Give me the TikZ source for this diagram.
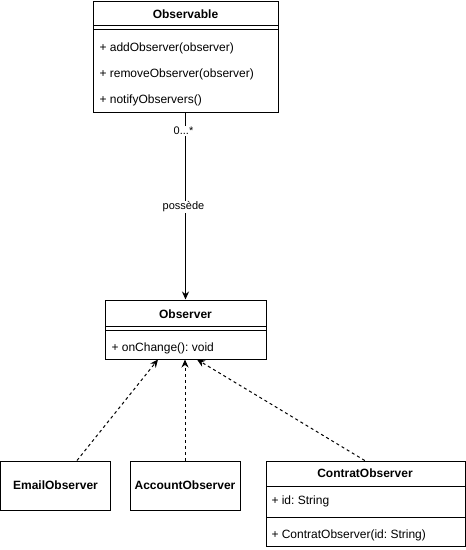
\documentclass[tikz,border=0pt]{standalone}
\usepackage{fontspec}
\setmainfont{Liberation Sans}
\usetikzlibrary{arrows.meta}
\frenchspacing

\begin{document}
\begin{tikzpicture}[x=1pt,y=-1pt,line width=1pt,
   every node/.style={font=\fontsize{12}{14}\selectfont,inner sep=0pt},
   class/.style={draw,rectangle},
   classname/.style={font=\fontsize{12}{14}\selectfont\bfseries},
   member/.style={anchor=west},
   lbl/.style={fill=white,inner sep=1pt,font=\fontsize{11}{13}\selectfont},
   realizes/.style={dash pattern=on 3pt off 3pt,-{Stealth[length=8pt,width=7pt]}}]
\useasboundingbox (0,0) rectangle (466,550);
% Observable
\node[class,minimum width=185pt,minimum height=111pt] (observable) at (185.5,56.5) {};
\node[classname] (observable name) at (185.5,14) {Observable};
\draw (93,25) -- (278,25) (93,29) -- (278,29);
\node[member] (add) at (99,48.5) {+ addObserver(observer)};
\node[member] (remove) at (99,74.5) {+ removeObserver(observer)};
\node[member] (notify) at (99,100.5) {+ notifyObservers()};
% Observer
\node[class,minimum width=161pt,minimum height=59pt] (observer) at (185.5,329.5) {};
\node[classname] (observer name) at (185.5,314) {Observer};
\draw (105,326) -- (266,326) (105,330) -- (266,330);
\node[member] (onchange) at (111,348.5) {+ onChange(): void};
% implementations
\node[class,classname,minimum width=110pt,minimum height=49pt] (email) at (55.5,485.5) {EmailObserver};
\node[class,classname,minimum width=110pt,minimum height=49pt] (account) at (185,485.5) {AccountObserver};
\node[class,minimum width=199.5pt,minimum height=85pt] (contrat) at (365.75,503.5) {};
\node[classname] (contrat name) at (365,473.5) {ContratObserver};
\draw (266,486) -- (465.5,486) (266,517) -- (465.5,517);
\node[member] (id) at (271,501) {+ id: String};
\node[member] (ctor) at (271,535) {+ ContratObserver(id: String)};
% connectors
\draw[-{Stealth[length=8pt,width=7pt]}] (observable) -- (observer)
   node[lbl,pos=.1,xshift=-2pt] {0...*}
   node[lbl,pos=.505,xshift=-2pt] {possède};
\draw[realizes] ([xshift=21.5pt]email.north) -- ([xshift=-27.5pt]observer.south);
\draw[realizes] (account.north) -- ([xshift=-.5pt]observer.south);
\draw[realizes] ([xshift=-1pt]contrat.north) -- ([xshift=11.5pt]observer.south);
\end{tikzpicture}
\end{document}
